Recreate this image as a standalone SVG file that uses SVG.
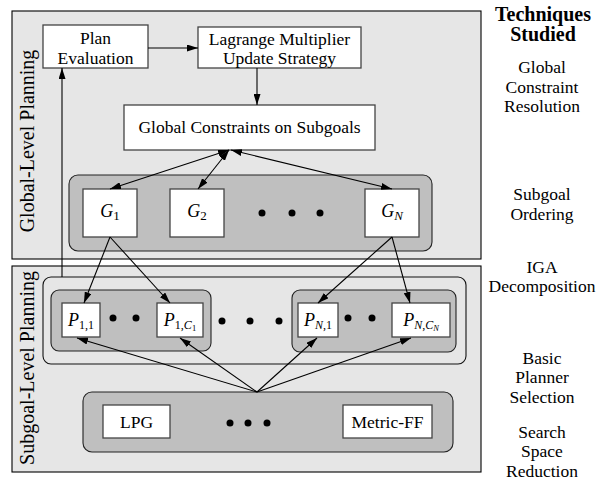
<svg xmlns="http://www.w3.org/2000/svg" width="605" height="481" viewBox="0 0 605 481">
<style>
text{font-family:"Liberation Serif","Times New Roman",serif;fill:#000}
.t{font-size:17.5px}
.m{font-size:18px;font-style:italic}
.lbl{font-size:20px}
.hd{font-size:20px;font-weight:bold}
.panel{fill:#e6e6e6;stroke:#000;stroke-width:1.1}
.grp{fill:#bfbfbf;stroke:#222;stroke-width:1.1}
.iga{fill:#e6e6e6;stroke:#111;stroke-width:1.1}
.box{fill:#fff;stroke:#444;stroke-width:1.3}
.dot{fill:#000}
.c{fill:none;stroke:#000;stroke-width:1.1}
</style>
<defs>
<marker id="ah" markerUnits="userSpaceOnUse" markerWidth="11" markerHeight="7" refX="11" refY="3.5" orient="auto-start-reverse">
<path d="M0,0 L11,3.5 L0,7 Z" fill="#000"/>
</marker>
</defs>

<g id="global-panel">
<rect class="panel" x="12" y="11" width="469" height="248"/>
<text class="lbl" transform="translate(34,141) rotate(-90)" text-anchor="middle">Global-Level Planning</text>
</g>
<g id="subgoal-panel">
<rect class="panel" x="12" y="266" width="469" height="206"/>
<text class="lbl" transform="translate(34,368) rotate(-90)" text-anchor="middle">Subgoal-Level Planning</text>
</g>

<g id="plan-evaluation">
<rect class="box" x="43" y="25" width="105" height="43"/>
<text class="t" x="95.5" y="44" text-anchor="middle">Plan</text>
<text class="t" x="95.5" y="63.5" text-anchor="middle">Evaluation</text>
</g>
<g id="lagrange">
<rect class="box" x="198" y="27" width="163" height="41"/>
<text class="t" x="279.5" y="44.5" text-anchor="middle">Lagrange Multiplier</text>
<text class="t" x="279.5" y="63.5" text-anchor="middle">Update Strategy</text>
</g>
<g id="global-constraints">
<rect class="box" x="124" y="105" width="251" height="45"/>
<text class="t" x="249.5" y="133" text-anchor="middle">Global Constraints on Subgoals</text>
</g>

<g id="subgoal-group">
<rect class="grp" x="69" y="175" width="363" height="76" rx="9"/>
<circle class="dot" cx="262" cy="213" r="3.5"/>
<circle class="dot" cx="292" cy="213" r="3.5"/>
<circle class="dot" cx="320" cy="213" r="3.5"/>
</g>
<g id="G1">
<rect class="box" x="83" y="189" width="54" height="48"/>
<text x="110" y="217" text-anchor="middle"><tspan class="m">G</tspan><tspan font-size="13" dy="3">1</tspan></text>
</g>
<g id="G2">
<rect class="box" x="170" y="189" width="54" height="48"/>
<text x="197" y="217" text-anchor="middle"><tspan class="m">G</tspan><tspan font-size="13" dy="3">2</tspan></text>
</g>
<g id="GN">
<rect class="box" x="365" y="189" width="54" height="48"/>
<text x="392" y="217" text-anchor="middle"><tspan class="m">G</tspan><tspan font-size="13" font-style="italic" dy="3">N</tspan></text>
</g>

<g id="iga-group">
<rect class="iga" x="43" y="277" width="423" height="87" rx="8"/>
<circle class="dot" cx="222" cy="321" r="3.5"/>
<circle class="dot" cx="250" cy="321" r="3.5"/>
<circle class="dot" cx="279" cy="321" r="3.5"/>
</g>
<g id="p-group-1">
<rect class="grp" x="51" y="290" width="160" height="61" rx="8"/>
<circle class="dot" cx="113" cy="318" r="3.5"/>
<circle class="dot" cx="136" cy="318" r="3.5"/>
</g>
<g id="p-group-N">
<rect class="grp" x="292" y="290" width="164" height="62" rx="8"/>
<circle class="dot" cx="348" cy="318" r="3.5"/>
<circle class="dot" cx="372" cy="318" r="3.5"/>
</g>
<g id="P11">
<rect class="box" x="62" y="303" width="38" height="34"/>
<text x="81" y="326" text-anchor="middle"><tspan class="m">P</tspan><tspan font-size="12" dy="3">1,1</tspan></text>
</g>
<g id="P1C1">
<rect class="box" x="157" y="303" width="46" height="34"/>
<text x="180" y="326" text-anchor="middle"><tspan class="m">P</tspan><tspan font-size="12" dy="3">1,</tspan><tspan font-size="12" font-style="italic">C</tspan><tspan font-size="8.5" dy="2">1</tspan></text>
</g>
<g id="PN1">
<rect class="box" x="298" y="303" width="40" height="34"/>
<text x="318" y="326" text-anchor="middle"><tspan class="m">P</tspan><tspan font-size="12" font-style="italic" dy="3">N</tspan><tspan font-size="12">,1</tspan></text>
</g>
<g id="PNCN">
<rect class="box" x="392" y="303" width="58" height="34"/>
<text x="421" y="326" text-anchor="middle"><tspan class="m">P</tspan><tspan font-size="12" font-style="italic" dy="3">N</tspan><tspan font-size="12">,</tspan><tspan font-size="12" font-style="italic">C</tspan><tspan font-size="8.5" font-style="italic" dy="2">N</tspan></text>
</g>

<g id="planner-group">
<rect class="grp" x="83" y="392" width="370" height="60" rx="9"/>
<circle class="dot" cx="230" cy="423" r="3.5"/>
<circle class="dot" cx="248" cy="423" r="3.5"/>
<circle class="dot" cx="267" cy="423" r="3.5"/>
</g>
<g id="LPG">
<rect class="box" x="103" y="405" width="67" height="33"/>
<text class="t" x="136.5" y="428" text-anchor="middle">LPG</text>
</g>
<g id="Metric-FF">
<rect class="box" x="343" y="405" width="89" height="33"/>
<text class="t" x="387.5" y="428" text-anchor="middle">Metric-FF</text>
</g>

<g id="connectors">
<line class="c" x1="148" y1="48" x2="198" y2="48" marker-end="url(#ah)"/>
<line class="c" x1="257" y1="68" x2="257" y2="105" marker-end="url(#ah)"/>
<line class="c" x1="62" y1="277" x2="62" y2="68" marker-end="url(#ah)"/>
<line class="c" x1="229" y1="150" x2="110" y2="189" marker-start="url(#ah)" marker-end="url(#ah)"/>
<line class="c" x1="229" y1="150" x2="198" y2="189" marker-start="url(#ah)" marker-end="url(#ah)"/>
<line class="c" x1="231" y1="150" x2="392" y2="189" marker-start="url(#ah)" marker-end="url(#ah)"/>
<line class="c" x1="110" y1="237" x2="84" y2="303" marker-end="url(#ah)"/>
<line class="c" x1="110" y1="237" x2="170" y2="303" marker-end="url(#ah)"/>
<line class="c" x1="392" y1="237" x2="318" y2="303" marker-end="url(#ah)"/>
<line class="c" x1="392" y1="237" x2="410" y2="303" marker-end="url(#ah)"/>
<line class="c" x1="257" y1="392" x2="77" y2="338" marker-end="url(#ah)"/>
<line class="c" x1="257" y1="392" x2="180" y2="338" marker-end="url(#ah)"/>
<line class="c" x1="257" y1="392" x2="317" y2="338" marker-end="url(#ah)"/>
<line class="c" x1="257" y1="392" x2="411" y2="338" marker-end="url(#ah)"/>
</g>

<g id="techniques">
<text class="hd" x="543" y="21" text-anchor="middle">Techniques</text>
<text class="hd" x="543" y="41" text-anchor="middle">Studied</text>
<text class="t" x="542" y="73" text-anchor="middle">Global</text>
<text class="t" x="542" y="93" text-anchor="middle">Constraint</text>
<text class="t" x="542" y="112" text-anchor="middle">Resolution</text>
<text class="t" x="542" y="200" text-anchor="middle">Subgoal</text>
<text class="t" x="542" y="220" text-anchor="middle">Ordering</text>
<text class="t" x="542" y="273" text-anchor="middle">IGA</text>
<text class="t" x="542" y="292" text-anchor="middle">Decomposition</text>
<text class="t" x="542" y="364" text-anchor="middle">Basic</text>
<text class="t" x="542" y="383" text-anchor="middle">Planner</text>
<text class="t" x="542" y="403" text-anchor="middle">Selection</text>
<text class="t" x="542" y="438" text-anchor="middle">Search</text>
<text class="t" x="542" y="457" text-anchor="middle">Space</text>
<text class="t" x="542" y="477" text-anchor="middle">Reduction</text>
</g>
</svg>
